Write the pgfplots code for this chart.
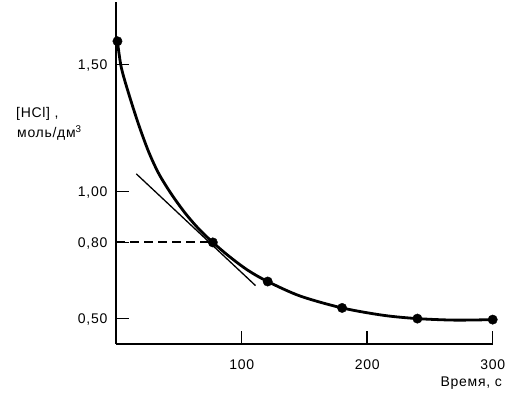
\documentclass[border=0pt]{standalone}
\usepackage{fontspec}
\setmainfont{Liberation Sans}[LetterSpace=5]
\usepackage{pgfplots}
\pgfplotsset{compat=1.18}
\begin{document}
\fontsize{14pt}{16pt}\selectfont
\begin{tikzpicture}[x=1pt,y=1pt]
\path[use as bounding box] (0pt,0pt) rectangle (518pt,395pt);
\begin{axis}[
  at={(116.2pt,51pt)}, anchor=south west,
  scale only axis, width=376.5pt, height=341.6pt,
  xmin=0, xmax=300, ymin=0.40, ymax=1.745,
  axis lines=left, axis line style={-, line width=2pt},
  clip=false,
  xtick={100,200,300}, xticklabels={100,200,300},
  ytick={0.5,0.8,1.0,1.5}, yticklabels={{0,50},{0,80},{1,00},{1,50}},
  tick align=inside, major tick length=13pt,
  tick style={line width=1.5pt, black},
  /pgf/number format/assume math mode=true,
  xticklabel style={anchor=north, yshift=-11pt, text depth=0pt, font=\fontsize{14pt}{16pt}\selectfont},
  yticklabel style={anchor=east, xshift=-4pt, text depth=0pt, font=\fontsize{14pt}{16pt}\selectfont},
]
\addplot[black, line width=2pt, dash pattern=on 9pt off 5pt] coordinates {(0,0.80) (77,0.80)};
\addplot[black, line width=1.3pt] coordinates {(16,1.07) (111,0.63)};
\addplot[black, line width=2.8pt, smooth] coordinates {
(1,1.592) (4,1.49) (10,1.385) (18,1.262) (26,1.155) (34,1.07) (44,0.99) (55,0.915) (66,0.852) (77,0.80) (90,0.745) (105,0.69) (120.7,0.646) (146.5,0.589) (180,0.542) (212.8,0.513) (240,0.50) (270,0.494) (300,0.496)};
\addplot[black, only marks, mark=*, mark size=4.7pt] coordinates {
(1,1.592) (77,0.80) (120.7,0.646) (180,0.542) (240,0.50) (300,0.496)};
\end{axis}
\node[anchor=west, inner sep=0] at (16pt,281pt) {[HCl] ,};
\node[anchor=base west, inner sep=0] at (17pt,257pt) {моль/дм\textsuperscript{3}};
\node[anchor=east, inner sep=0] at (502pt,12pt) {Время, с};
\end{tikzpicture}
\end{document}
